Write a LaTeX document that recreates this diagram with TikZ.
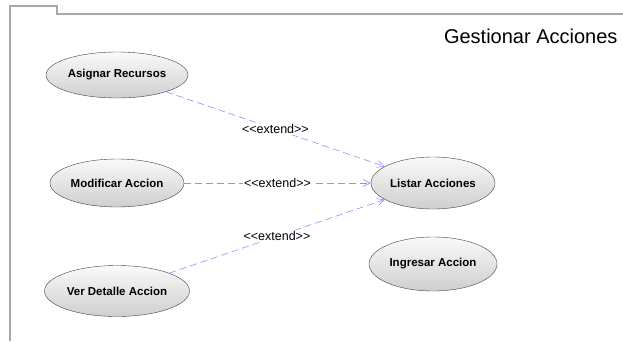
\documentclass[tikz,border=0pt]{standalone}
\usepackage{fontspec}
\setmainfont{Liberation Sans}
\usetikzlibrary{arrows.meta, shapes.geometric}

\definecolor{framegray}{HTML}{A8A8A8}
\definecolor{extblue}{HTML}{9090F8}

\newcommand{\extendtxt}{<\kern0pt<extend>\kern0pt>}

\begin{document}
\begin{tikzpicture}[x=1pt, y=1pt, node distance={108pt},
    usecase/.style = {draw=black!75, ellipse, top color=gray!4, bottom color=gray!38,
        inner xsep=-4pt, minimum width=124pt, minimum height=48pt,
        font=\fontsize{11.5}{13}\selectfont\bfseries},
    extend/.style = {draw=extblue, dash pattern=on 7pt off 4pt, line width=0.6pt,
        -{Straight Barb[length=7pt, width=7pt]}},
    extlabel/.style = {fill=white, inner sep=1pt, font=\fontsize{12.5}{14}\selectfont}]
    \useasboundingbox (0,0) rectangle (623,-341);

    % package frame
    \draw[framegray, line width=2.5pt] (10,-341) -- (10,-6) -- (57,-6) -- (57,-14) -- (624,-14);
    \node[anchor=east, font=\fontsize{20}{24}\selectfont] (title) at (621,-36) {Gestionar Acciones};

    \node[usecase, minimum width=142pt, minimum height=46pt] (asig) at (117,-75) {Asignar Recursos};
    \node[usecase, minimum width=134pt] (modif) [below of=asig] {Modificar Accion};
    \node[usecase, minimum width=145pt, minimum height=51pt] (verdet) [below of=modif] {Ver Detalle Accion};

    \node[usecase, minimum height=52pt] (listar) [right of=modif, node distance={316pt}] {Listar Acciones};
    \node[usecase, minimum width=128pt, minimum height=54pt] (ingresar) [below of=listar, node distance={81pt}] {Ingresar Accion};

    \path[extend] (asig) edge node[extlabel] {\extendtxt} (listar);
    \path[extend] (modif) edge node[extlabel] {\extendtxt} (listar);
    \path[extend] (verdet) edge node[extlabel] {\extendtxt} (listar);
\end{tikzpicture}
\end{document}
